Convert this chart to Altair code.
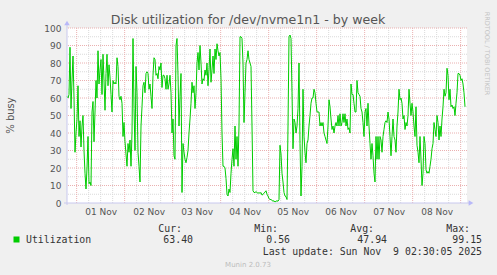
import altair as alt
import pandas as pd

# ---- data (one value per 30 minutes) ----
util = [
    61, 60, 62, 89, 54, 70, 84, 60, 29, 40,
    48, 67, 38, 47, 32, 44, 50, 30, 17, 8,
    20, 38, 11, 12, 10, 52, 58, 35, 52, 70,
    60, 87, 68, 76, 82, 62, 85, 70, 53, 74,
    85, 67, 79, 72, 62, 52, 70, 68, 69, 68,
    83, 78, 61, 59, 61, 57, 38, 46, 35, 28,
    21, 34, 29, 36, 21, 40, 94, 54, 30, 78,
    63, 29, 21, 12, 44, 55, 67, 69, 63, 74,
    75, 74, 65, 68, 61, 54, 73, 83, 82, 73,
    74, 71, 78, 76, 80, 66, 73, 73, 71, 65,
    73, 65, 68, 73, 63, 40, 48, 27, 25, 90,
    94, 73, 44, 61, 74, 6, 34, 29, 25, 23,
    26, 30, 40, 48, 57, 69, 63, 67, 54, 63,
    80, 86, 76, 90, 80, 68, 71, 70, 76, 73,
    80, 67, 76, 88, 69, 76, 84, 74, 88, 82,
    91, 87, 84, 86, 71, 40, 21, 21, 20, 14,
    5, 4, 8, 6, 17, 25, 31, 21, 44, 25,
    38, 21, 44, 95, 95, 94, 80, 46, 63, 80,
    82, 87, 82, 80, 78, 44, 7, 6, 6, 6.5,
    6, 5.5, 6, 5.5, 6, 4.5, 5, 5.5, 6.3, 7,
    5, 4, 2.5, 2, 2, 1.5, 1, 1.3, 0.56, 1,
    1.3, 1, 2, 33, 28, 17, 12, 6, 4, 3.6,
    2, 44, 95, 96, 94, 63, 31, 48, 46, 40,
    44, 54, 80, 34, 4, 21, 65, 38, 29, 23,
    34, 36, 44, 50, 57, 60, 60, 65, 63, 57,
    52, 52, 52, 44, 46, 44, 46, 40, 38, 36,
    34, 44, 59, 55, 48, 42, 44, 40, 44, 46,
    44, 50, 44, 51, 44, 46, 51, 46, 51, 44,
    48, 42, 43, 40, 68, 62, 62, 57, 52, 52,
    70, 63, 62, 61, 54, 52, 46, 38, 52, 54,
    44, 57, 44, 34, 25, 34, 27, 17, 12, 38,
    25, 38, 25, 38, 36, 29, 38, 42, 46, 47,
    46, 52, 48, 38, 27, 38, 48, 38, 36, 29,
    44, 52, 65, 59, 60, 57, 48, 50, 42, 46,
    44, 50, 65, 57, 50, 57, 52, 44, 38, 55,
    33, 29, 23, 38, 25, 10, 17, 38, 34, 19,
    17, 18, 17, 21, 25, 31, 34, 46, 42, 38,
    50, 46, 36, 44, 38, 48, 55, 65, 61, 63,
    77, 73, 59, 65, 55, 56, 54, 55, 50, 57,
    63, 74, 74, 73, 70, 71, 68, 63, 55,
]
start = "2025-10-31T19:10:00Z"
label_days = [1, 2, 3, 4, 5, 6, 7, 8]          # x tick labels (noon of each day)
y_ticks = [0, 10, 20, 30, 40, 50, 60, 70, 80, 90, 100]
y_minor = [5, 15, 25, 35, 45, 55, 65, 75, 85, 95]
legend_heads = ["Cur:", "Min:", "Avg:", "Max:"]
legend_vals = ["63.40", "0.56", "47.94", "99.15"]
series_name = "Utilization"
title = "Disk utilization for /dev/nvme1n1 - by week"
last_update = "Last update: Sun Nov \u00a09 02:30:05 2025"

# ---- tables ----
times = pd.date_range(start, periods=len(util), freq="30min")
df = pd.DataFrame({"t": times.strftime("%Y-%m-%dT%H:%M:%SZ"), "v": util})

major_t = pd.date_range("2025-11-01T00:00:00Z", "2025-11-09T00:00:00Z", freq="D")
minor_t = [t for t in pd.date_range("2025-11-01T06:00:00Z", "2025-11-09T00:00:00Z", freq="6h")
           if t.hour != 0]
vmajor = pd.DataFrame({"t": major_t.strftime("%Y-%m-%dT%H:%M:%SZ")})
vminor = pd.DataFrame({"t": [t.strftime("%Y-%m-%dT%H:%M:%SZ") for t in minor_t]})
hmajor = pd.DataFrame({"v": y_ticks[1:]})
hminor = pd.DataFrame({"v": y_minor})
one = pd.DataFrame({"k": [0]})

W, H = 400, 175
FONT = "DejaVu Sans"
MONO = "DejaVu Sans Mono"
LABEL = "#555555"

xscale = alt.Scale(type="utc", domain=[
    alt.DateTime(year=2025, month=10, date=31, hours=19, minutes=10, utc=True),
    alt.DateTime(year=2025, month=11, date=9, hours=3, minutes=10, utc=True)])
xaxis = alt.Axis(values=[alt.DateTime(year=2025, month=11, date=d, hours=12, utc=True) for d in label_days],
                 labelExpr="utcFormat(datum.value, '%d %b')", labelFont=FONT, labelFontSize=9,
                 labelColor=LABEL, ticks=False, tickSize=0, domain=False, grid=False,
                 labelPadding=4, labelFlush=False, labelOverlap=False, title=None)
yscale = alt.Scale(domain=[0, 100], nice=False, zero=True)
yaxis = alt.Axis(values=y_ticks, labelFont=FONT, labelFontSize=9, labelColor=LABEL,
                 ticks=False, tickSize=0, domain=False, grid=False, labelPadding=6,
                 title=None)


def X():
    return alt.X("t:T", scale=xscale, axis=xaxis)


def Y():
    return alt.Y("v:Q", scale=yscale, axis=yaxis)


layers = []
# grid
layers.append(alt.Chart(hminor).mark_rule(color="#dadada", strokeDash=[1, 1], strokeWidth=1).encode(y=Y()))
layers.append(alt.Chart(vminor).mark_rule(color="#dadada", strokeDash=[1, 1], strokeWidth=1).encode(x=X()))
layers.append(alt.Chart(hmajor).mark_rule(color="#eab0b0", strokeDash=[1, 1], strokeWidth=1).encode(y=Y()))
layers.append(alt.Chart(vmajor).mark_rule(color="#eab0b0", strokeDash=[1, 1], strokeWidth=1).encode(x=X()))

# data line
layers.append(alt.Chart(df).mark_line(color="#00cc00", strokeWidth=1).encode(x=X(), y=Y()))

# axis lines + arrows
AX = "#c8c8ee"
layers.append(alt.Chart(one).mark_rule(color=AX, strokeWidth=1).encode(
    x=alt.value(0), y=alt.value(H + 2), y2=alt.value(-3)))
layers.append(alt.Chart(one).mark_rule(color=AX, strokeWidth=1).encode(
    x=alt.value(-3), x2=alt.value(W + 2), y=alt.value(H)))
layers.append(alt.Chart(one).mark_point(shape="triangle-up", filled=True, color="#b8b8f8",
                                        size=30, opacity=1).encode(x=alt.value(0), y=alt.value(-5)))
layers.append(alt.Chart(one).mark_point(shape="triangle-right", filled=True, color="#b8b8f8",
                                        size=30, opacity=1).encode(x=alt.value(W + 4), y=alt.value(H)))


def txt(s, x, y, **kw):
    d = pd.DataFrame({"s": [s]})
    return alt.Chart(d).mark_text(**kw).encode(text="s:N", x=alt.value(x), y=alt.value(y))


layers.append(txt(title, 181, -4, font=FONT, fontSize=12.6, color="#555555", align="center", baseline="alphabetic"))
layers.append(txt("% busy", -56, H / 2, font=FONT, fontSize=10, color=LABEL, align="center",
                  baseline="middle", angle=270))
layers.append(txt("RRDTOOL / TOBI OETIKER", 419.5, 25.5, font=FONT, fontSize=6.5, color="#c4c4c4",
                  align="center", baseline="middle", angle=90))

# legend
head_x = [115, 211, 307, 403]
val_x = [126, 223, 320, 415]
for h, v, hx, vx in zip(legend_heads, legend_vals, head_x, val_x):
    layers.append(txt(h, hx, 204, font=MONO, fontSize=9.85, color="#333333", align="right", baseline="alphabetic"))
    layers.append(txt(v, vx, 215, font=MONO, fontSize=9.85, color="#333333", align="right", baseline="alphabetic"))
layers.append(txt(series_name, -41, 215, font=MONO, fontSize=9.85, color="#333333", align="left",
                  baseline="alphabetic"))
layers.append(alt.Chart(one).mark_square(color="#00cc00", size=36, opacity=1).encode(
    x=alt.value(-50.5), y=alt.value(211.5)))
layers.append(txt(last_update, 415, 226.5, font=MONO, fontSize=9.85, color="#333333", align="right",
                  baseline="alphabetic"))
layers.append(txt("Munin 2.0.73", 181, 236.5, font=FONT, fontSize=7, color="#bcbcbc", align="center",
                  baseline="middle"))

chart = alt.layer(*layers).properties(
    width=W, height=H,
    padding={"left": 67, "top": 28, "right": 30, "bottom": 72},
    autosize=alt.AutoSizeParams(type="none"),
    background="#f0f0f0",
).configure_view(fill="white", stroke=None)

chart.save("out.html", embed_options={"renderer": "svg", "actions": False})
